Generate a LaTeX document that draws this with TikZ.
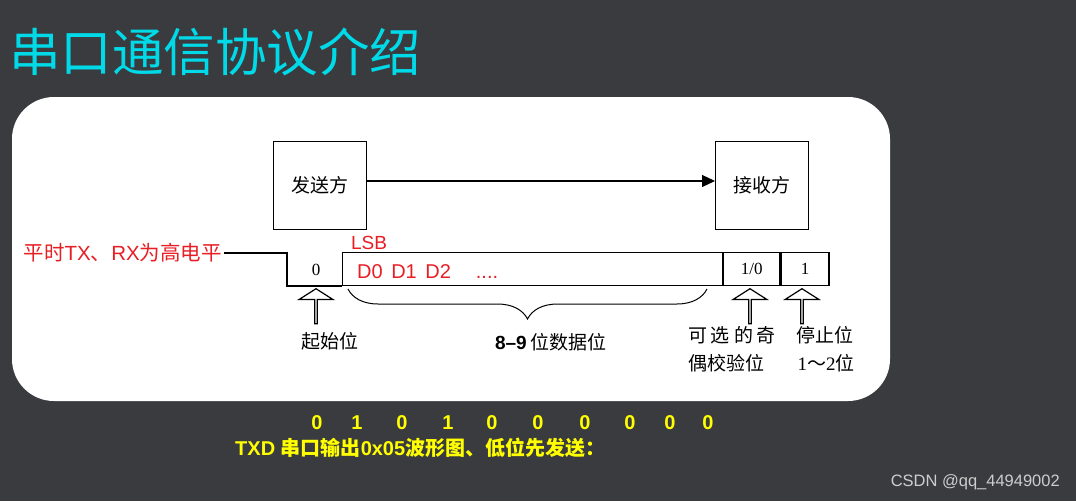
\documentclass[tikz,border=0pt]{standalone}
\usepackage{fontspec}
\setmainfont{Liberation Sans}
\newfontfamily\cjk{Noto Sans CJK SC}
\newfontfamily\serifnum{Liberation Serif}
\usetikzlibrary{shapes.arrows,arrows.meta,positioning,decorations.pathreplacing,calc}
\definecolor{slidebg}{RGB}{58,59,63}
\definecolor{titlecyan}{RGB}{0,218,232}
\definecolor{notered}{RGB}{232,30,36}
\definecolor{txdyellow}{RGB}{255,255,0}
\definecolor{marklight}{RGB}{205,205,205}
\tikzset{
    partybox/.style={
        rectangle,
        draw,
        line width=1pt,
        minimum width=93pt,
        minimum height=88pt,
        font=\cjk\fontsize{19}{19}\selectfont
    },
    bitcell/.style={
        rectangle,
        draw,
        line width=1.2pt,
        minimum height=33pt,
        inner sep=0pt,
        anchor=south west,
        font=\serifnum\fontsize{17}{17}\selectfont
    },
    uparrow/.style={
        single arrow,
        draw,
        line width=1.2pt,
        shape border rotate=90,
        minimum height=35pt,
        minimum width=34pt,
        single arrow head extend=7.5pt,
        single arrow tip angle=115,
        inner sep=0pt,
        anchor=tip
    },
    bitlabel/.style={
        inner sep=0pt,
        font=\cjk\fontsize{19}{19}\selectfont
    },
    txdbit/.style={
        txdyellow,
        inner sep=0pt,
        font=\bfseries\fontsize{20}{20}\selectfont
    }
}

\begin{document}
\begin{tikzpicture}[x=1pt,y=-1pt]
    % Slide background
    \fill[slidebg] (0,0) rectangle (1076,501);
    \useasboundingbox (0,0) rectangle (1076,501);
    \fill[white, rounded corners=42pt] (12,97) rectangle (890,401);
    \node[titlecyan, inner sep=0pt, anchor=base west, font=\cjk\fontsize{51.5}{51.5}\selectfont] (title) at (9,71) {串口通信协议介绍};

    % Sender and receiver
    \node[partybox] (sender) at (319.5,185.5) {发送方};
    \node[partybox] (receiver) at (762,185.5) {接收方};
    \draw[-{Triangle[length=13pt,width=12pt]}, line width=1.2pt] ([yshift=4.5pt]sender.east) -- ([yshift=4.5pt]receiver.west);

    % Frame on the line
    \node[bitcell, minimum width=380pt] (data) at (342,286) {};
    \node[bitcell, minimum width=56pt] (parity) at (data.south east) {1/0};
    \node[bitcell, minimum width=48pt] (stop) at (parity.south east) {1};
    \node[notered, anchor=east, inner sep=2pt, font=\fontsize{20.5}{20.5}\selectfont] (idle) at (224,253) {{\cjk 平时}TX{\cjk 、}RX{\cjk 为高电平}};
    \coordinate (startlow) at (287,286);
    \draw[line width=1.2pt] (idle.east) -| (startlow) -- (data.south west);
    \node[font=\serifnum\fontsize{17}{17}\selectfont] (startbit) at (316,270) {0};
    \node[notered, inner sep=0pt, font=\fontsize{19}{19}\selectfont] (lsb) at (369,243) {LSB};
    \node[notered, anchor=base west, inner sep=0pt, font=\fontsize{20}{20}\selectfont] (bits) at (357,278) {D0\hspace{3pt} D1\hspace{3pt} D2};
    \node[notered, anchor=base, inner sep=0pt, font=\fontsize{20}{20}\selectfont] (dots) at (487,278) {....};

    % Pointers under the frame
    \node[uparrow] (startarr) at (316,288) {};
    \node[uparrow] (parityarr) at (750,288) {};
    \node[uparrow] (stoparr) at (802,288) {};
    \draw[decorate, decoration={brace, mirror, amplitude=30pt}, line width=1pt] (348,289) -- (707,289);

    \node[bitlabel] (startlabel) at (330,341) {起始位};
    \node[bitlabel] (datalabel) at (551,342) {{\rmfamily\bfseries 8--9}\ 位数据位};
    \node[bitlabel] (paritylabel) at (732,335) {可\hspace{4pt}选\hspace{4pt}的\hspace{4pt}奇};
    \node[bitlabel] (paritylabel2) at (726,363) {偶校验位};
    \node[bitlabel] (stoplabel) at (825,335) {停止位};
    \node[bitlabel] (stoplabel2) at (826,363) {{\serifnum 1}～{\serifnum 2}位};

    % TXD example
    \foreach \bx/\bv [count=\i] in {317/0,357/1,402/0,448/1,492/0,538/0,585/0,630/0,670/0,708/0}
        \node[txdbit] (txd\i) at (\bx,423) {\bv};
    \node[txdyellow, anchor=west, inner sep=0pt, font=\bfseries\fontsize{20}{20}\selectfont] (txdcap) at (235,448) {TXD {\cjk 串口输出}0x05{\cjk 波形图、低位先发送：}};

    \node[marklight, anchor=east, inner sep=0pt, font=\fontsize{16.5}{16.5}\selectfont] (credit) at (1060,482) {CSDN @qq\_44949002};
\end{tikzpicture}
\end{document}
